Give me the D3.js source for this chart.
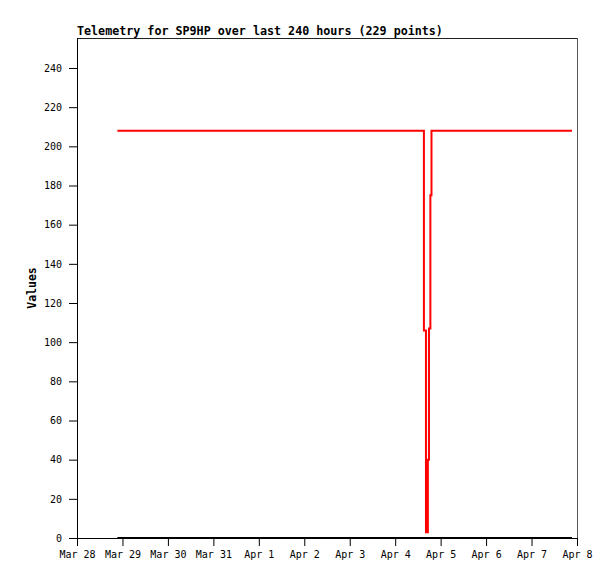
<!DOCTYPE html>
<html><head><meta charset="utf-8">
<script src="https://cdn.jsdelivr.net/npm/d3@7"></script>
<style>
html,body{margin:0;padding:0;background:#fff;}
text{font-family:"DejaVu Sans Mono",monospace;}
</style></head>
<body><svg id="c" width="615" height="579"></svg>
<script>
const title = "Telemetry for SP9HP over last 240 hours (229 points)";
const yLabel = "Values";
const xTickDates = ["2024-03-28","2024-03-29","2024-03-30","2024-03-31","2024-04-01","2024-04-02","2024-04-03","2024-04-04","2024-04-05","2024-04-06","2024-04-07","2024-04-08"];
const xTickLabels = ["Mar 28","Mar 29","Mar 30","Mar 31","Apr 1","Apr 2","Apr 3","Apr 4","Apr 5","Apr 6","Apr 7","Apr 8"];
const yTicks = [0,20,40,60,80,100,120,140,160,180,200,220,240];
// series 1 (red): value changes only
const redTimes = ["2024-03-28T21:20","2024-04-04T15:10","2024-04-04T16:15","2024-04-04T17:15","2024-04-04T17:50","2024-04-04T18:35","2024-04-04T19:10","2024-04-07T21:20"];
const redValues = [208,106,3,40,107,175,208,208];
// series 2 (black): constant zero
const blackTimes = ["2024-03-28T21:20","2024-04-07T21:20"];
const blackValues = [0,0];

const parse = s => new Date(s.length===10 ? s+"T00:00:00Z" : s+":00Z");
const svg = d3.select("#c");
const L=77, R=577, T=38, B=538;
const x = d3.scaleUtc().domain([parse(xTickDates[0]), parse(xTickDates[xTickDates.length-1])]).range([L,R]);
const y = d3.scaleLinear().domain([0,240]).range([B,68]);

// frame
svg.append("line").attr("x1",L).attr("x2",R+0.5).attr("y1",T+0.5).attr("y2",T+0.5).attr("stroke","#222");
svg.append("line").attr("x1",R+0.5).attr("x2",R+0.5).attr("y1",T).attr("y2",B).attr("stroke","#555");

// axes
const yAxis = d3.axisLeft(y).tickValues(yTicks).tickSize(8).tickPadding(7).tickSizeOuter(0).tickFormat(d3.format("d"));
const gy = svg.append("g").attr("transform",`translate(${L},0)`).call(yAxis);
gy.select(".domain").attr("d",`M0.5,${T}V${B+0.5}`).attr("stroke","#000");
gy.selectAll("text").style("font-size","10px").attr("fill","#000");
gy.selectAll("line").attr("stroke","#000");

const xAxis = d3.axisBottom(x).tickValues(xTickDates.map(parse)).tickSize(8).tickPadding(5).tickSizeOuter(0)
  .tickFormat((d,i)=>xTickLabels[i]);
const gx = svg.append("g").attr("transform",`translate(0,${B})`).call(xAxis);
gx.select(".domain").attr("d",`M${L-8},0.5H${R+1}`).attr("stroke","#000");
gx.selectAll("text").style("font-size","10px").attr("fill","#000");
gx.selectAll("line").attr("stroke","#000");

// series
const line = d3.line().curve(d3.curveStepAfter).x(d=>x(d[0])).y(d=>y(d[1]));
svg.append("path").datum(blackTimes.map((t,i)=>[parse(t),blackValues[i]]))
  .attr("d",line).attr("fill","none").attr("stroke","#000").attr("stroke-width",2);
svg.append("path").datum(redTimes.map((t,i)=>[parse(t),redValues[i]]))
  .attr("d",line).attr("fill","none").attr("stroke","#ff0000").attr("stroke-width",2);

// title and label
svg.append("text").attr("x",L).attr("y",35).text(title)
  .style("font-size","11.7px").style("font-weight","bold").attr("fill","#000");
svg.append("text").attr("transform",`translate(36,${(T+B)/2}) rotate(-90)`).attr("text-anchor","middle")
  .text(yLabel).style("font-size","11.5px").style("font-weight","bold").attr("fill","#000");
</script></body></html>
